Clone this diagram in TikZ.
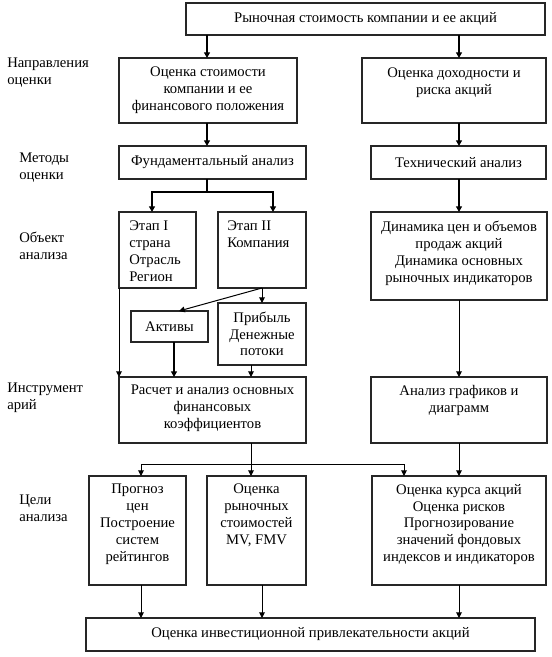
\documentclass[tikz,border=0pt]{standalone}
\usepackage{fontspec}
\setmainfont{Liberation Serif}
\usetikzlibrary{arrows.meta,calc,shadows}
\newcommand\mkbox[5]{\node[box,minimum width={(#4-#2)*0.75pt},minimum height={(#5-#3)*0.75pt}] (#1) at (#2,#3) {};}
\begin{document}
\begin{tikzpicture}[x=0.75pt,y=-0.75pt,
  box/.style={draw=black!85,fill=white,line width=0.9pt,anchor=north west,inner sep=0pt,outer sep=0pt,
    drop shadow={shadow xshift=1.1pt,shadow yshift=-1.1pt,opacity=1,fill=black!75}},
  txt/.style={font=\fontsize{11}{12.6}\selectfont,align=center,inner sep=0pt},
  ltxt/.style={font=\fontsize{11}{12.6}\selectfont,align=left,inner sep=0pt,anchor=north west},
  lbl/.style={font=\fontsize{11}{12.6}\selectfont,align=left,inner sep=0pt,anchor=north west},
  arr/.style={line width=0.75pt,-{Triangle[length=4.3pt,width=4.3pt]}},
  tarr/.style={line width=1.4pt,-{Triangle[length=4.3pt,width=4.5pt]}},
]
\useasboundingbox (0,0) rectangle (551,657);

% boxes
\mkbox{top}{186}{3}{545}{35}
\mkbox{ocs}{119}{58}{297}{123}
\mkbox{odr}{362}{58}{546}{123}
\mkbox{fund}{119}{146}{306}{179}
\mkbox{tech}{371}{146}{546}{179}
\mkbox{e1}{119}{212}{196}{288}
\mkbox{e2}{218}{212}{306}{288}
\mkbox{dyn}{371}{212}{547}{300}
\mkbox{akt}{131}{311}{208}{342}
\mkbox{prib}{218}{303}{306}{365}
\mkbox{calc}{119}{377}{306}{443}
\mkbox{graf}{371}{377}{547}{443}
\mkbox{prog}{89}{476}{186}{585}
\mkbox{mv}{207}{476}{306}{585}
\mkbox{kurs}{372}{476}{546}{585}
\mkbox{final}{86}{618}{535}{651}

% texts
\node[txt] (topT) at (top.center) {Рыночная стоимость компании и ее акций};
\node[txt] (ocsT) at (ocs.center) {Оценка стоимости\\компании и ее\\финансового положения};
\node[txt,anchor=north] (odrT) at ($(odr.north)+(0,10)$) {Оценка доходности и\\риска акций};
\node[txt] (fundT) at (fund.center) {Фундаментальный анализ};
\node[txt] (techT) at (tech.center) {Технический анализ};
\node[ltxt] (e1T) at (129,221) {Этап I\\страна\\Отрасль\\Регион};
\node[ltxt] (e2T) at (227,221) {Этап II\\Компания};
\node[txt,anchor=north] (dynT) at ($(dyn.north)+(0,9)$) {Динамика цен и объемов\\продаж акций\\Динамика основных\\рыночных индикаторов};
\node[txt] (aktT) at (akt.center) {Активы};
\node[txt] (pribT) at (prib.center) {Прибыль\\Денежные\\потоки};
\node[txt,anchor=north] (calcT) at ($(calc.north)+(0,8)$) {Расчет и анализ основных\\финансовых\\коэффициентов};
\node[txt,anchor=north] (grafT) at ($(graf.north)+(0,8)$) {Анализ графиков и\\диаграмм};
\node[txt,anchor=north] (progT) at ($(prog.north)+(0,8)$) {Прогноз\\цен\\Построение\\систем\\рейтингов};
\node[txt,anchor=north] (mvT) at ($(mv.north)+(0,8)$) {Оценка\\рыночных\\стоимостей\\MV, FMV};
\node[txt,anchor=north] (kursT) at ($(kurs.north)+(0,8)$) {Оценка курса акций\\Оценка рисков\\Прогнозирование\\значений фондовых\\индексов и индикаторов};
\node[txt] (finalT) at (final.center) {Оценка инвестиционной привлекательности акций};

% left labels
\node[lbl] (l1) at (7,58) {Направления\\оценки};
\node[lbl] (l2) at (19,153) {Методы\\оценки};
\node[lbl] (l3) at (19,232) {Объект\\анализа};
\node[lbl] (l4) at (7,383) {Инструмент\\арий};
\node[lbl] (l5) at (19,495) {Цели\\анализа};

% x positions of connectors
\coordinate (xL) at (207,0);
\coordinate (xR) at (459,0);
\coordinate (xE1) at (152,0);
\coordinate (xE2) at (273,0);
\coordinate (xP) at (262,0);
\coordinate (xAk) at (179,0);
\coordinate (xAk2) at (174,0);
\coordinate (xC) at (251,0);
\coordinate (xG1) at (141,0);
\coordinate (xK) at (404,0);
\coordinate (f1) at (207,192);
\coordinate (f2) at (251,464);

% connectors
\draw[tarr] (top.south -| xL) -- (ocs.north -| xL);
\draw[tarr] (top.south -| xR) -- (odr.north -| xR);
\draw[tarr] (ocs.south -| xL) -- (fund.north -| xL);
\draw[tarr] (odr.south -| xR) -- (tech.north -| xR);
\draw[tarr] (fund.south -| xL) -- (f1) -| (e1.north -| xE1);
\draw[tarr] (f1) -| (e2.north -| xE2);
\draw[tarr] (tech.south -| xR) -- (dyn.north -| xR);
\draw[arr] (e2.south -| xP) -- (prib.north -| xP);
\draw[arr] (e2.south -| xP) -- (akt.north -| xAk);
\draw[arr] (e1.south west) -- (calc.north west);
\draw[tarr] (akt.south -| xAk2) -- (calc.north -| xAk2);
\draw[arr] (prib.south -| xC) -- (calc.north -| xC);
\draw[arr] (dyn.south -| xR) -- (graf.north -| xR);
\draw[arr] (calc.south -| xC) -- (f2) -| (prog.north -| xG1);
\draw[arr] (f2) -- (mv.north -| xC);
\draw[arr] (f2) -| (kurs.north -| xK);
\draw[arr] (graf.south -| xR) -- (kurs.north -| xR);
\draw[arr] (prog.south -| xG1) -- (final.north -| xG1);
\draw[arr] (mv.south -| xP) -- (final.north -| xP);
\draw[arr] (kurs.south -| xR) -- (final.north -| xR);
\end{tikzpicture}
\end{document}
